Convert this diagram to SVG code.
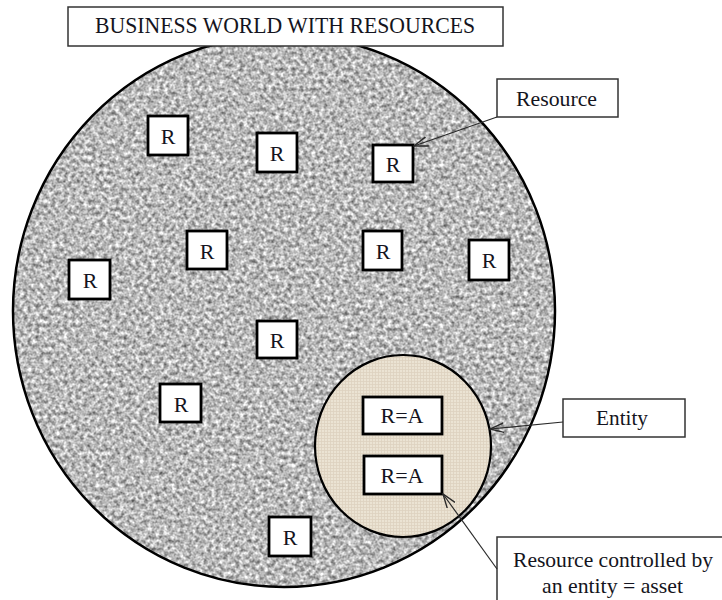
<svg xmlns="http://www.w3.org/2000/svg" width="722" height="600" viewBox="0 0 722 600">
  <style>
    .lbl { fill: #ffffff; stroke: #333333; stroke-width: 1.5; }
    .res { fill: #ffffff; stroke: #000000; stroke-width: 2.8; }
    .t { font-family: "Liberation Serif", "Times New Roman", serif; fill: #141420; }
    .r { font-size: 22px; text-anchor: middle; }
    .conn { stroke: #2a2a2a; stroke-width: 1.2; fill: none; marker-end: url(#open); }
  </style>
  <defs>
    <marker id="open" viewBox="0 0 14 10" refX="13" refY="5" markerWidth="15" markerHeight="11" markerUnits="userSpaceOnUse" orient="auto">
      <path d="M0,0.5 L13,5 L0,9.5" fill="none" stroke="#2a2a2a" stroke-width="1.3"/>
    </marker>
    <filter id="granite" x="0" y="0" width="100%" height="100%" color-interpolation-filters="sRGB">
      <feTurbulence type="fractalNoise" baseFrequency="0.25" numOctaves="3" seed="7" result="n"/>
      <feColorMatrix in="n" type="matrix" values="0.95 0 0 0 0.25  0.95 0 0 0 0.25  0.95 0 0 0 0.25  0 0 0 0 1" result="g"/>
      <feComposite in="g" in2="SourceGraphic" operator="in"/>
    </filter>
    <pattern id="linen" width="3" height="3" patternUnits="userSpaceOnUse">
      <rect width="3" height="3" fill="#ebe3d3"/>
      <path d="M0,0.5 H3 M0.5,0 V3" stroke="#ddd2bf" stroke-width="0.8"/>
    </pattern>
  </defs>

  <g id="world">
    <ellipse cx="284" cy="311" rx="271" ry="276" fill="#b5b5b5" filter="url(#granite)"/>
    <ellipse cx="284" cy="311" rx="271" ry="276" fill="none" stroke="#000000" stroke-width="2.5"/>
  </g>

  <g id="entity-circle">
    <ellipse cx="403" cy="446" rx="88" ry="91" fill="url(#linen)" stroke="#000000" stroke-width="2.2"/>
  </g>

  <g id="title">
    <rect class="lbl" x="68" y="7" width="435" height="39"/>
    <text class="t" x="95" y="33" font-size="23" textLength="380" lengthAdjust="spacingAndGlyphs">BUSINESS WORLD WITH RESOURCES</text>
  </g>

  <g id="r1"><rect class="res" x="148" y="116" width="40" height="39"/><text class="t r" x="168" y="144">R</text></g>
  <g id="r2"><rect class="res" x="257" y="133" width="40" height="39"/><text class="t r" x="277" y="161">R</text></g>
  <g id="r3"><rect class="res" x="373" y="145" width="40" height="37"/><text class="t r" x="393" y="172">R</text></g>
  <g id="r4"><rect class="res" x="187" y="231" width="40" height="38"/><text class="t r" x="207" y="259">R</text></g>
  <g id="r5"><rect class="res" x="363" y="231" width="39" height="39"/><text class="t r" x="383" y="259">R</text></g>
  <g id="r6"><rect class="res" x="469" y="240" width="40" height="40"/><text class="t r" x="489" y="268">R</text></g>
  <g id="r7"><rect class="res" x="69" y="260" width="41" height="39"/><text class="t r" x="90" y="288">R</text></g>
  <g id="r8"><rect class="res" x="257" y="321" width="40" height="37"/><text class="t r" x="277" y="348">R</text></g>
  <g id="r9"><rect class="res" x="160" y="384" width="41" height="38"/><text class="t r" x="181" y="412">R</text></g>
  <g id="r10"><rect class="res" x="269" y="517" width="42" height="39"/><text class="t r" x="290" y="545">R</text></g>

  <g id="asset1"><rect class="res" x="363" y="397" width="79" height="37"/><text class="t r" x="402" y="423">R=A</text></g>
  <g id="asset2"><rect class="res" x="364" y="456" width="78" height="38"/><text class="t r" x="402" y="483">R=A</text></g>

  <g id="label-resource">
    <rect class="lbl" x="497" y="79" width="121" height="38"/>
    <text class="t" x="516" y="106" font-size="22" textLength="81" lengthAdjust="spacingAndGlyphs">Resource</text>
  </g>

  <g id="label-entity">
    <rect class="lbl" x="563" y="399" width="122" height="38"/>
    <text class="t" x="596" y="425" font-size="22" textLength="52" lengthAdjust="spacingAndGlyphs">Entity</text>
  </g>

  <g id="label-asset">
    <rect class="lbl" x="497" y="537" width="240" height="80"/>
    <text class="t" x="513" y="567" font-size="22" textLength="200" lengthAdjust="spacingAndGlyphs">Resource controlled by</text>
    <text class="t" x="542" y="593" font-size="22" textLength="141" lengthAdjust="spacingAndGlyphs">an entity = asset</text>
  </g>

  <g id="connectors">
    <line class="conn" x1="497" y1="117" x2="414" y2="146"/>
    <line class="conn" x1="563" y1="422" x2="490" y2="429"/>
    <line class="conn" x1="497" y1="569" x2="443" y2="494"/>
  </g>
</svg>
